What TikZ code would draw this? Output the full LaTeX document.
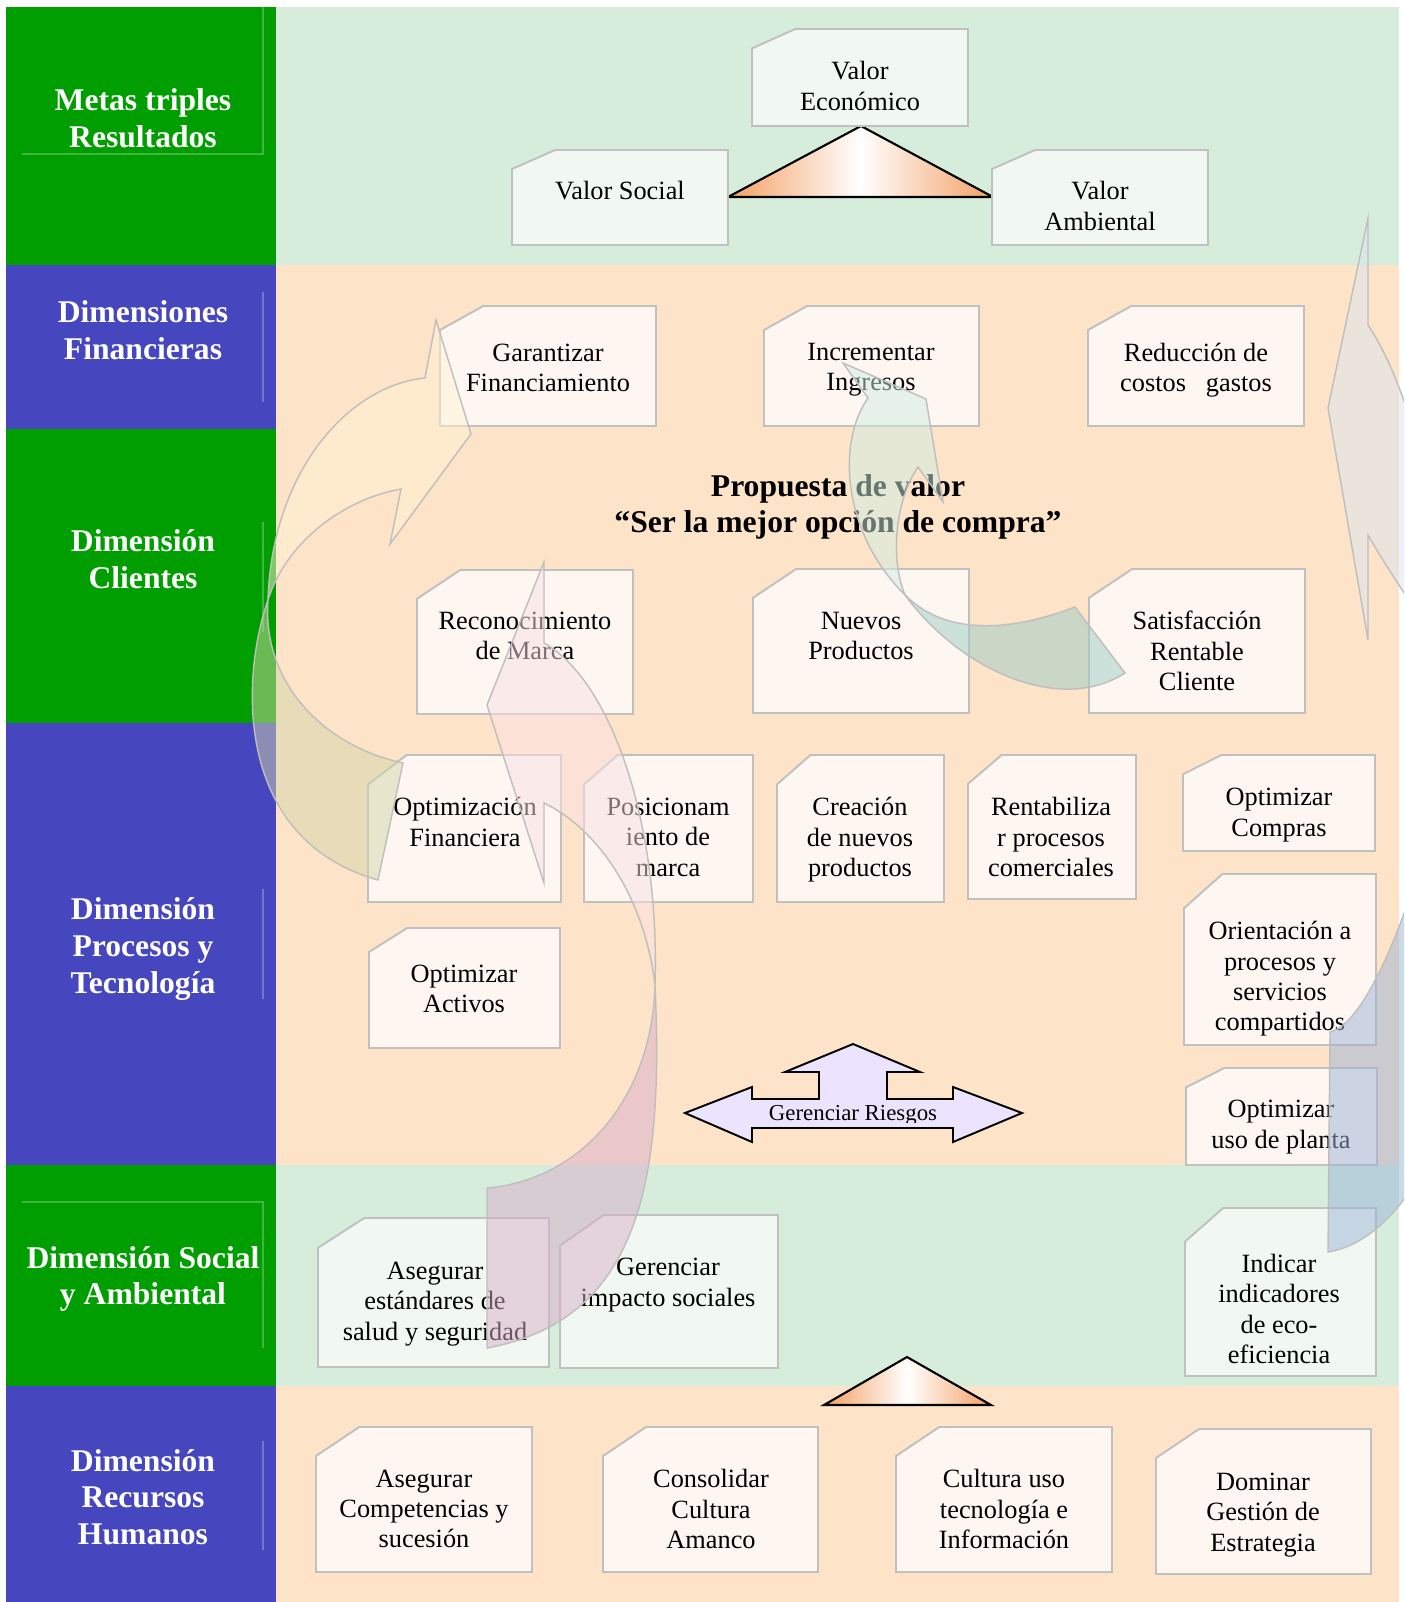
\documentclass[tikz,border=0pt]{standalone}
\usepackage{fontspec}
\setmainfont{Liberation Serif}
\usepackage{tikz}

\definecolor{bandgreen}{RGB}{214,237,220}
\definecolor{bandpeach}{RGB}{253,227,199}
\definecolor{labgreen}{RGB}{0,158,0}
\definecolor{labblue}{RGB}{70,70,190}
\definecolor{cardgreen}{RGB}{241,248,242}
\definecolor{cardpeach}{RGB}{254,246,240}
\definecolor{cardline}{RGB}{192,192,192}
\definecolor{triorange}{RGB}{244,160,100}
\definecolor{riskfill}{RGB}{236,228,255}
\definecolor{arrowline}{RGB}{190,190,190}
\definecolor{yelfront}{RGB}{255,243,211}
\definecolor{yelback}{RGB}{211,213,171}
\definecolor{pinkfront}{RGB}{250,224,230}
\definecolor{pinkback}{RGB}{217,173,201}
\definecolor{grnfront}{RGB}{205,238,228}
\definecolor{grnback}{RGB}{155,205,198}
\definecolor{bluefront}{RGB}{219,229,241}
\definecolor{blueback}{RGB}{155,180,215}

\begin{document}
\begin{tikzpicture}[
    x=0.02cm, y=-0.02cm,
    cardbox/.style={draw=cardline, line width=1.1pt},
    cardtext/.style={align=center, inner sep=0pt, font=\fontsize{15}{17.3}\selectfont},
    dimlabel/.style={align=center, inner sep=0pt, text=white, font=\fontsize{18}{20.8}\selectfont\bfseries},
    sepline/.style={draw=white, draw opacity=0.25, line width=0.6pt},
    valtri/.style={draw=black, line width=1.2pt, left color=triorange, right color=triorange, middle color=white},
    riskarrow/.style={draw=black, line width=1.1pt, fill=riskfill},
    bigarrow/.style={draw=arrowline, line width=0.8pt, fill opacity=0.5}
]
\useasboundingbox (0,0) rectangle (1404,1602);
\clip (0,0) rectangle (1404,1602);
\fill[white] (0,0) rectangle (1404,1602);

% Bands: label column and content area
\foreach \ya/\yb/\lc/\rc in {7/265/labgreen/bandgreen, 265/429/labblue/bandpeach,
    429/723/labgreen/bandpeach, 723/1165/labblue/bandpeach,
    1165/1386/labgreen/bandgreen, 1386/1602/labblue/bandpeach} {
    \fill[\lc] (6,\ya) rectangle (276,\yb);
    \fill[\rc] (276,\ya) rectangle (1399,\yb);
}

% Faint frame lines in the label column
\draw[sepline] (263,7) -- (263,154) -- (22,154);
\draw[sepline] (263,292) -- (263,402);
\draw[sepline] (263,522) -- (263,632);
\draw[sepline] (263,889) -- (263,999);
\draw[sepline] (22,1202) -- (263,1202) -- (263,1348);
\draw[sepline] (263,1441) -- (263,1550);

% Dimension labels
\node[dimlabel] (metas) at (143,118) {Metas triples\\Resultados};
\node[dimlabel] (financ) at (143,330) {Dimensiones\\Financieras};
\node[dimlabel] (clientes) at (143,559) {Dimensión\\Clientes};
\node[dimlabel] (procesos) at (143,949) {Dimensión\\Procesos y\\Tecnología};
\node[dimlabel] (social) at (143,1279) {Dimensión Social\\y Ambiental};
\node[dimlabel] (rrhh) at (143,1497) {Dimensión\\Recursos\\Humanos};

% Triangles behind the value cards
\draw[valtri] (861,126) -- (993,197) -- (728,197) -- cycle;
\draw[valtri] (907,1357) -- (991,1405) -- (824,1405) -- cycle;

% Cards with a cut corner
\foreach \n/\xa/\ya/\xb/\yb/\cx/\cy/\fc/\txt in {
    valEco/752/29/968/126/860/86/cardgreen/{Valor\\Económico},
    valSoc/512/150/728/245/620/191/cardgreen/{Valor Social},
    valAmb/992/150/1208/245/1100/206/cardgreen/{Valor\\Ambiental},
    garFin/440/306/656/426/548/368/cardpeach/{Garantizar\\Financiamiento},
    incIng/764/306/979/426/871/370/cardpeach/{Incrementar\\Ingresos},
    redCos/1088/306/1304/426/1196/370/cardpeach/{Reducción de\\costos~~~gastos},
    recMar/417/570/633/714/525/636/cardpeach/{Reconocimiento\\de Marca},
    nuePro/753/569/969/713/861/636/cardpeach/{Nuevos\\Productos},
    satCli/1089/569/1305/713/1197/651/cardpeach/{Satisfacción\\Rentable\\Cliente},
    optFin/368/755/561/902/465/822/cardpeach/{Optimización\\Financiera},
    posMar/584/755/753/902/668/837/cardpeach/{Posicionam\\iento de\\marca},
    creNue/777/755/944/902/860/840/cardpeach/{Creación\\de nuevos\\productos},
    renPro/968/755/1136/899/1051/837/cardpeach/{Rentabiliza\\r procesos\\comerciales},
    optCom/1183/755/1375/851/1279/815/cardpeach/{Optimizar\\Compras},
    oriPro/1184/874/1376/1045/1280/979/cardpeach/{Orientación a\\procesos y\\servicios\\compartidos},
    optAct/369/928/560/1048/464/989/cardpeach/{Optimizar\\Activos},
    optPla/1186/1068/1377/1165/1281/1127/cardpeach/{Optimizar\\uso de planta},
    aseEst/318/1218/549/1367/435/1304/cardgreen/{Asegurar\\estándares de\\salud y seguridad},
    gerImp/560/1215/778/1368/668/1285/cardgreen/{Gerenciar\\impacto sociales},
    indEco/1185/1208/1376/1376/1279/1309/cardgreen/{Indicar\\indicadores\\de eco-\\eficiencia},
    aseCom/316/1427/532/1572/424/1509/cardpeach/{Asegurar\\Competencias y\\sucesión},
    conCul/603/1427/818/1572/711/1509/cardpeach/{Consolidar\\Cultura\\Amanco},
    culTec/896/1427/1112/1572/1004/1509/cardpeach/{Cultura uso\\tecnología e\\Información},
    domGes/1156/1429/1371/1574/1263/1515/cardpeach/{Dominar\\Gestión de\\Estrategia}} {
    \draw[cardbox, fill=\fc] (\xa,{\ya+0.2*(\yb-\ya)}) -- ({\xa+0.2*(\xb-\xa)},\ya)
        -- (\xb,\ya) -- (\xb,\yb) -- (\xa,\yb) -- cycle;
    \node[cardtext] (\n) at (\cx,\cy) {\txt};
}

% Value proposition
\node[align=center, inner sep=0pt, font=\fontsize{18}{20.4}\selectfont\bfseries] (propuesta)
    at (838,507) {Propuesta de valor\\“Ser la mejor opción de compra”};

% Risk management arrow
\draw[riskarrow] (685,1113) -- (752,1087) -- (752,1099) -- (819,1099) -- (819,1072)
    -- (785,1072) -- (853,1044) -- (920,1072) -- (887,1072) -- (887,1099)
    -- (953,1099) -- (953,1087) -- (1022,1113) -- (953,1142) -- (953,1128)
    -- (752,1128) -- (752,1142) -- cycle;
\begin{scope}
    \clip (700,1090) rectangle (1000,1122);
    \node[anchor=base, inner sep=0pt, font=\fontsize{13}{15}\selectfont] (riesgos)
        at (853,1120.5) {Gerenciar Riesgos};
\end{scope}

% Curved arrows (front face, then back face)
\path[bigarrow, fill=yelfront] (436,320) -- (425,378) .. controls (350,385) and (272,470) .. (268,600)
    .. controls (285,545) and (340,500) .. (401,489) -- (390,544) -- (471,434) -- cycle;
\path[bigarrow, fill=yelback] (268,600) .. controls (262,680) and (320,745) .. (403,763)
    -- (378,880) .. controls (235,840) and (240,680) .. (268,600) -- cycle;

\path[bigarrow, fill=pinkfront] (544,562) -- (544,643) .. controls (610,680) and (660,820) .. (655,985)
    .. controls (645,900) and (600,830) .. (544,803) -- (544,883) -- (487,705) -- cycle;
\path[bigarrow, fill=pinkback] (655,985) .. controls (664,1180) and (640,1320) .. (487,1348)
    -- (487,1188) .. controls (580,1180) and (652,1100) .. (655,985) -- cycle;

\path[bigarrow, fill=grnfront] (843,363) -- (868,398) .. controls (838,440) and (840,530) .. (905,595)
    .. controls (890,560) and (895,500) .. (918,467) -- (943,502) -- (926,399) -- cycle;
\path[bigarrow, fill=grnback] (905,595) .. controls (960,670) and (1060,715) .. (1125,673)
    -- (1075,607) .. controls (1020,628) and (950,640) .. (905,595) -- cycle;

\path[bigarrow, fill=bluefront] (1368,218) -- (1368,325) .. controls (1415,395) and (1455,560) .. (1455,720)
    .. controls (1455,650) and (1420,625) .. (1368,535) -- (1368,640) -- (1328,408) -- cycle;
\path[bigarrow, fill=blueback] (1455,720) .. controls (1440,820) and (1380,1020) .. (1330,1032)
    -- (1328,1252) .. controls (1460,1230) and (1530,900) .. (1455,720) -- cycle;
\end{tikzpicture}
\end{document}
